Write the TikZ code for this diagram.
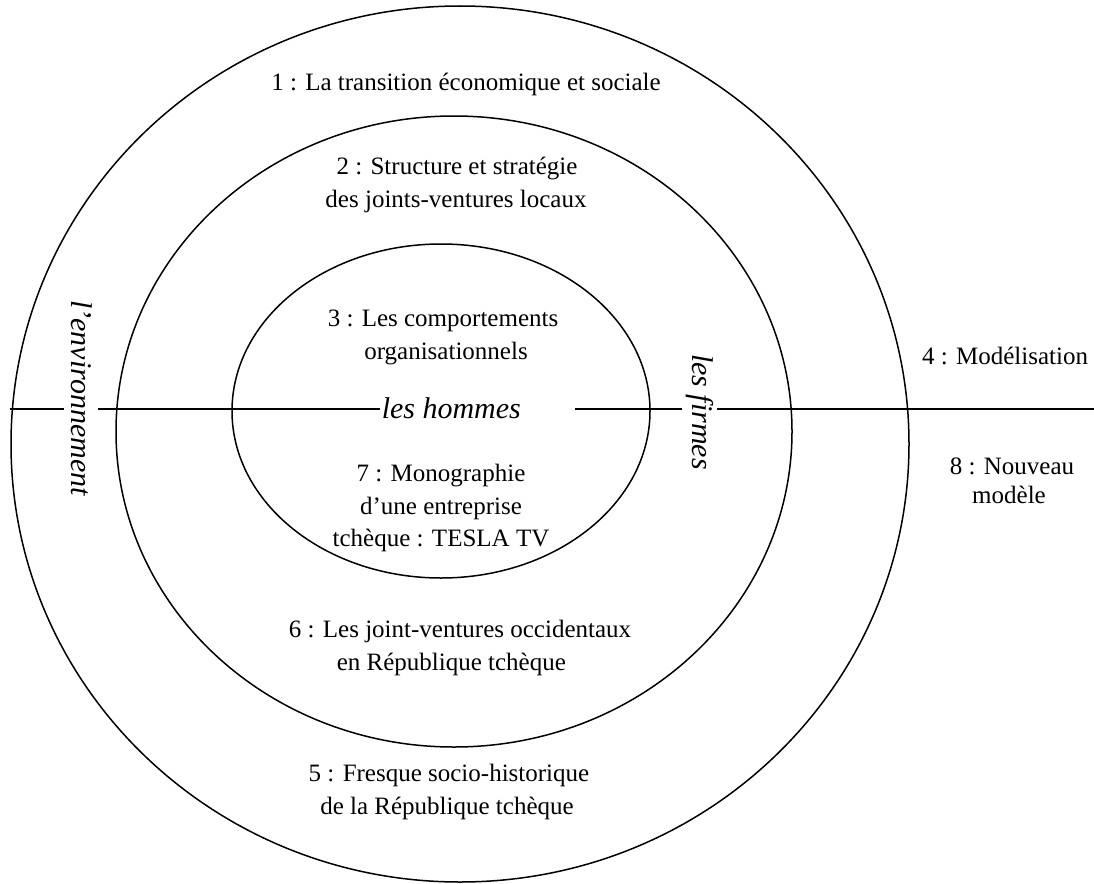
\documentclass[tikz,border=0pt]{standalone}
\usepackage{fontspec}
\setmainfont{Liberation Serif}
\begin{document}
\begin{tikzpicture}[x=1pt,y=-1pt,line width=1.5pt,
  lbl/.style={font=\fontsize{25}{32}\selectfont,inner sep=0pt,anchor=base},
  ital/.style={lbl,font=\fontsize{30}{34}\selectfont\itshape}]
\useasboundingbox (0,0) rectangle (1094,883);
% the three nested rings
\draw (460,444) ellipse [x radius=449,y radius=438];
\draw (454,431.5) ellipse [x radius=338,y radius=315.5];
\draw (441,411) ellipse [x radius=209,y radius=167];
% horizontal axis, broken where the labels sit
\coordinate (a0) at (10,409);
\coordinate (a1) at (64,409);
\coordinate (a2) at (98,409);
\coordinate (a3) at (380,409);
\coordinate (a4) at (575,409);
\coordinate (a5) at (682,409);
\coordinate (a6) at (717,409);
\coordinate (a7) at (1094,409);
\draw (a0) -- (a1);
\draw (a2) -- (a3);
\draw (a4) -- (a5);
\draw (a6) -- (a7);
% axis labels
\node[ital,anchor=base west] (hommes) at (381,418) {les hommes};
\node[ital,rotate=-90,anchor=center] (env) at (82,398) {l’environnement};
\node[ital,rotate=-90,anchor=center] (firmes) at (700,412) {les firmes};
% ring labels
\node[lbl] (t1) at (466,90) {1 : La transition économique et sociale};
\node[lbl] (t2a) at (457,174) {2 : Structure et stratégie};
\node[lbl] (t2b) at (456,207) {des joints-ventures locaux};
\node[lbl] (t3a) at (443,326) {3 : Les comportements};
\node[lbl] (t3b) at (446,359) {organisationnels};
\node[lbl] (t7a) at (441,481) {7 : Monographie};
\node[lbl] (t7b) at (441,514) {d’une entreprise};
\node[lbl] (t7c) at (441,546) {tchèque : TESLA TV};
\node[lbl] (t6a) at (460,637) {6 : Les joint-ventures occidentaux};
\node[lbl,anchor=base west] (t6b) at (336,670) {en République tchèque};
\node[lbl] (t5a) at (449,781) {5 : Fresque socio-historique};
\node[lbl] (t5b) at (447,814) {de la République tchèque};
\node[lbl] (t4) at (1005,364) {4 : Modélisation};
\node[lbl] (t8a) at (1012,474) {8 : Nouveau};
\node[lbl] (t8b) at (1009,503) {modèle};
\end{tikzpicture}
\end{document}
